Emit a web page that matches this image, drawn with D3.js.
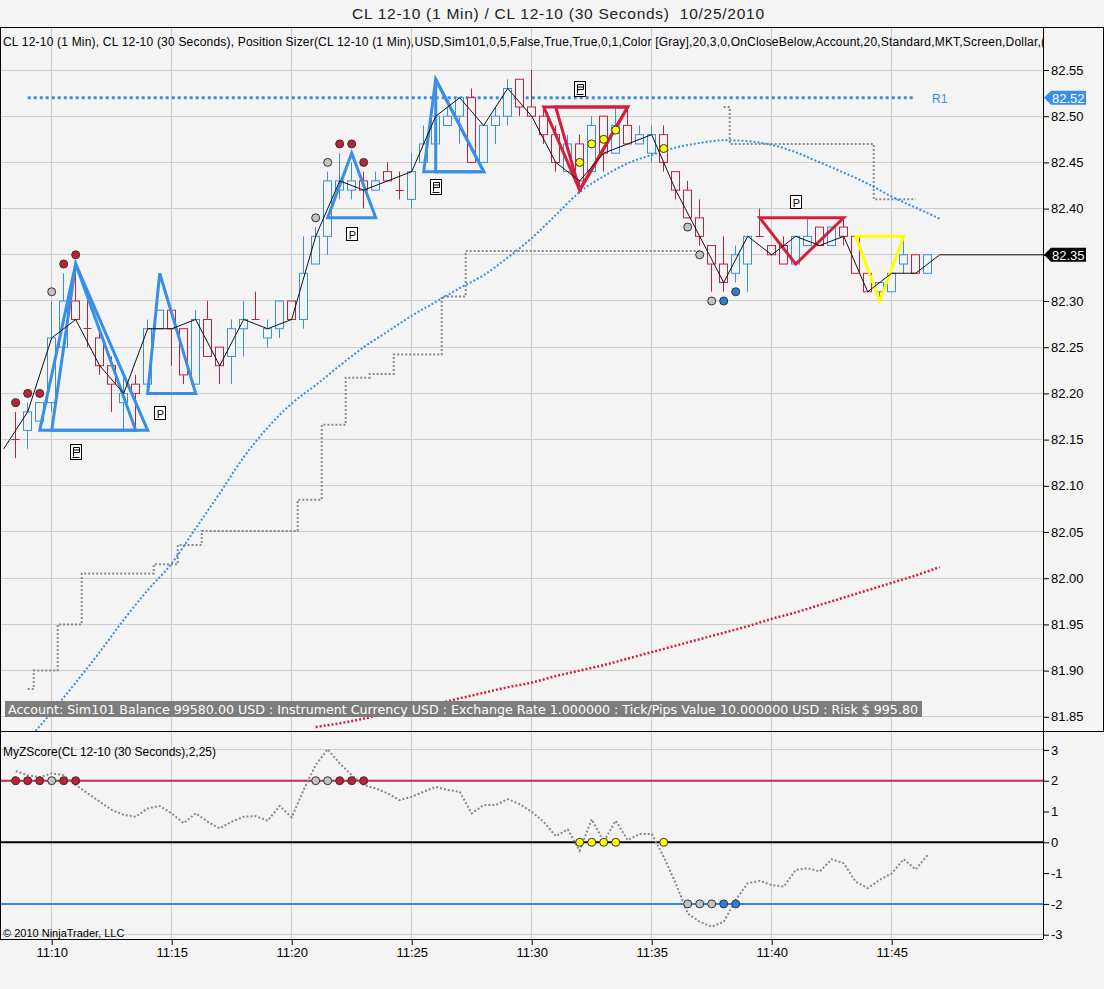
<!DOCTYPE html>
<html lang="en">
<head>
<meta charset="UTF-8">
<title>CL 12-10 (1 Min) / CL 12-10 (30 Seconds)</title>
<script src="https://d3js.org/d3.v7.min.js"></script>
<style>
    html, body {margin: 0; padding: 0; background: #f4f4f4;}
    svg {display: block; font-family: "Liberation Sans", Arial, sans-serif;}
</style>
</head>
<body>
<div id="chart"></div>
<script>

// 30 second bars, first one stamped 11:08:30
var barOpen = [82.15,82.16,82.17,82.19,82.25,82.30,82.27,82.26,82.23,82.19,
    82.21,82.21,82.27,82.29,82.27,82.21,82.28,82.25,82.24,82.27,
    82.28,82.26,82.27,82.30,82.28,82.34,82.37,82.42,82.42,82.43,
    82.42,82.44,82.42,82.41,82.45,82.47,82.49,82.50,82.52,82.45,
    82.49,82.50,82.54,82.51,82.50,82.48,82.44,82.47,82.44,82.50,
    82.46,82.49,82.47,82.46,82.48,82.44,82.42,82.39,82.36,82.34,
    82.33,82.34,82.37,82.36,82.36,82.34,82.36,82.38,82.36,82.38,
    82.37,82.33,82.31,82.31,82.34,82.35,82.33];
var barHigh = [82.18,82.19,82.19,82.30,82.33,82.34,82.30,82.27,82.24,82.22,
    82.22,82.28,82.29,82.29,82.27,82.29,82.30,82.25,82.28,82.30,
    82.31,82.28,82.30,82.30,82.37,82.38,82.44,82.46,82.45,82.44,
    82.44,82.45,82.44,82.46,82.49,82.51,82.51,82.52,82.53,82.49,
    82.51,82.54,82.54,82.55,82.51,82.49,82.48,82.48,82.50,82.50,
    82.51,82.51,82.49,82.49,82.49,82.44,82.43,82.41,82.36,82.37,
    82.36,82.37,82.40,82.36,82.37,82.37,82.39,82.38,82.38,82.39,
    82.37,82.33,82.32,82.33,82.37,82.35,82.35];
var barLow = [82.13,82.14,82.17,82.18,82.25,82.28,82.25,82.22,82.18,82.16,
    82.16,82.21,82.27,82.23,82.21,82.21,82.24,82.21,82.21,82.24,
    82.28,82.25,82.26,82.28,82.27,82.34,82.35,82.41,82.41,82.40,
    82.42,82.43,82.41,82.40,82.45,82.44,82.49,82.47,82.45,82.45,
    82.47,82.49,82.50,82.50,82.47,82.44,82.44,82.42,82.44,82.44,
    82.46,82.47,82.47,82.45,82.44,82.41,82.39,82.36,82.31,82.31,
    82.32,82.31,82.37,82.35,82.34,82.34,82.36,82.36,82.36,82.36,
    82.33,82.31,82.30,82.31,82.33,82.33,82.33];
var barClose = [82.15,82.18,82.19,82.26,82.30,82.28,82.27,82.23,82.21,82.20,
    82.20,82.27,82.29,82.27,82.22,82.28,82.24,82.23,82.27,82.28,
    82.28,82.27,82.30,82.28,82.33,82.37,82.43,82.43,82.43,82.42,
    82.43,82.43,82.42,82.44,82.47,82.50,82.50,82.52,82.45,82.49,
    82.50,82.53,82.51,82.50,82.48,82.45,82.47,82.43,82.49,82.46,
    82.49,82.47,82.48,82.48,82.45,82.42,82.39,82.37,82.34,82.32,
    82.35,82.37,82.37,82.35,82.34,82.37,82.37,82.36,82.38,82.37,
    82.33,82.31,82.32,82.33,82.35,82.33,82.35];

// 1 minute closes 11:08 .. 11:47
var minuteClose = [82.14,82.18,82.26,82.28,82.23,82.20,82.27,82.27,82.28,82.23,
    82.28,82.27,82.28,82.37,82.43,82.42,82.43,82.44,82.50,82.52,
    82.49,82.53,82.50,82.45,82.43,82.46,82.47,82.48,82.42,82.37,
    82.32,82.37,82.35,82.37,82.36,82.37,82.31,82.33,82.33,82.35];

// blue dotted average, one value a minute 11:09 .. 11:47
var blueAvg = [81.825,81.855,81.887,81.920,81.955,81.987,82.016,82.054,82.092,82.131,
    82.163,82.189,82.209,82.230,82.250,82.267,82.284,82.299,82.314,82.328,
    82.347,82.368,82.393,82.418,82.435,82.449,82.458,82.466,82.471,82.474,
    82.473,82.469,82.461,82.450,82.439,82.427,82.413,82.401,82.389];

// red dotted average, one value a minute 11:21 .. 11:47
var redAvg = [81.839,81.843,81.848,81.854,81.859,81.864,81.870,81.876,81.882,81.887,
    81.894,81.900,81.906,81.913,81.920,81.927,81.934,81.941,81.948,81.956,
    81.963,81.971,81.979,81.987,81.995,82.003,82.012];

// gray stop level on each 30 second bar (null = not plotted)
var stopLevel = [null,81.88,81.90,81.90,81.95,81.95,82.005,82.005,82.005,82.005,
    82.005,82.005,82.015,82.015,82.036,82.036,82.051,82.051,82.051,82.051,
    82.051,82.051,82.051,82.051,82.085,82.085,82.166,82.166,82.217,82.217,
    82.221,82.221,82.242,82.242,82.242,82.242,82.305,82.305,82.354,82.354,
    82.354,82.354,82.354,82.354,82.354,82.354,82.354,82.354,82.354,82.354,
    82.354,82.354,82.354,82.354,82.354,82.354,82.354,82.354,null,82.51,
    82.47,82.47,82.47,82.47,82.47,82.47,82.47,82.47,82.47,82.47,
    82.47,82.47,82.41,82.41,82.41,82.41,null];

// z score on each 30 second bar
var zScore = [2.31,2.18,2.11,2.24,2.18,1.86,1.59,1.32,1.05,0.89,
    0.83,1.10,1.18,0.94,0.62,0.94,0.67,0.45,0.67,0.83,
    0.85,0.70,1.18,0.81,1.70,2.51,3.02,2.56,2.18,1.86,
    1.75,1.59,1.37,1.48,1.64,1.80,1.70,1.64,0.94,1.21,
    1.21,1.40,1.24,0.99,0.67,0.20,0.42,-0.27,0.75,0.02,
    0.70,0.07,0.27,0.27,-0.47,-1.33,-2.31,-2.58,-2.74,-2.58,
    -1.87,-1.33,-1.25,-1.39,-1.44,-0.90,-0.84,-0.95,-0.55,-0.68,
    -1.28,-1.49,-1.22,-1.01,-0.55,-0.88,-0.41];

// signal dots
var dotBars = [0,1,2,3,4,5,25,26,27,28,29,47,48,49,50,54,56,57,58,59,60];
var dotKinds = ["red","red","red","gray","red","red","gray","gray","red","red","red",
    "yellow","yellow","yellow","yellow","yellow","gray","gray","gray","blue","blue"];
var dotPrices = [82.19,82.20,82.20,82.31,82.34,82.35,82.39,82.45,82.47,82.47,82.45,
    82.45,82.47,82.475,82.485,82.465,82.38,82.35,82.30,82.30,82.31];
var dotLevels = [2,2,2,2,2,2,2,2,2,2,2,0,0,0,0,0,-2,-2,-2,-2,-2];

// chart pattern triangles: [bar, price] corners
var triKinds = ["blue","blue","blue","blue","blue","blue","red","red","red","yellow"];
var triCorners = [
    [[2,82.16],[5,82.34],[10,82.16]],
    [[3,82.16],[5,82.34],[11,82.16]],
    [[11,82.20],[12,82.33],[15,82.20]],
    [[26,82.39],[28,82.46],[30,82.39]],
    [[34,82.44],[35,82.54],[39,82.44]],
    [[35,82.44],[35,82.54],[39,82.44]],
    [[44,82.51],[47,82.42],[51,82.51]],
    [[45,82.51],[47,82.42],[51,82.51]],
    [[62,82.39],[65,82.34],[69,82.39]],
    [[70,82.37],[72,82.30],[74,82.37]]
];
var pBars = [12,28,65], pPrices = [82.179,82.373,82.407];
var docBars = [5,35,47], docPrices = [82.137,82.423,82.529];

// R1 level
var r1Level = 82.52, r1From = 1, r1To = 75;
var lastPrice = 82.35;

var priceTicks = d3.range(0,15).map(function(k){ return +(81.85 + 0.05*k).toFixed(2); });
var zTicks = [-3,-2,-1,0,1,2,3];

var titleText = "CL 12-10 (1 Min) / CL 12-10 (30 Seconds)  10/25/2010";
var panelText = "CL 12-10 (1 Min), CL 12-10 (30 Seconds), Position Sizer(CL 12-10 (1 Min),USD,Sim101,0,5,False,True,True,0,1,Color [Gray],20,3,0,OnCloseBelow,Account,20,Standard,MKT,Screen,Dollar,(";
var accountText = "Account: Sim101 Balance 99580.00 USD : Instrument Currency USD : Exchange Rate 1.000000 : Tick/Pips Value 10.000000 USD : Risk $ 995.80";
var zText = "MyZScore(CL 12-10 (30 Seconds),2,25)";

// ---------------------------------------------------------------
var W = 1104, H = 989;
var bg = "#f4f4f4";
var axisX = 1043;
var pTop = 27, pBottom = 731, zBottom = 939;
var upColor = "#3a8ee6", downColor = "#c81e3c";
var dotFill = {red: "#c41e3a", gray: "#c3c3c3", yellow: "#ffff00", blue: "#2a7fdc"};
var triStroke = {blue: "#3a8ee6", red: "#d4203f", yellow: "#ffff00"};

var t0 = new Date(2010, 9, 25, 11, 8, 30);
function barTime(i){ return new Date(t0.getTime() + i*30000); }
function minTime(k, start){ return new Date(start.getTime() + k*60000); }

var x = d3.scaleTime().domain([barTime(0), barTime(76)]).range([15.7, 927.7]);
var y = d3.scaleLinear().domain([81.85, 82.55]).range([716.8, 70]);
var z = d3.scaleLinear().domain([-3, 3]).range([934.7, 749.9]);
function bx(i){ return x(barTime(i)); }
function crisp(v){ return Math.floor(v) + 0.5; }

var svg = d3.select("#chart").append("svg").attr("width", W).attr("height", H);
svg.append("rect").attr("width", W).attr("height", H).attr("fill", bg);

var defs = svg.append("defs");
defs.append("clipPath").attr("id", "clipP").append("rect")
    .attr("x", 1).attr("y", pTop + 1).attr("width", axisX - 1).attr("height", pBottom - pTop - 1);
defs.append("clipPath").attr("id", "clipZ").append("rect")
    .attr("x", 1).attr("y", pBottom + 1).attr("width", axisX - 1).attr("height", zBottom - pBottom - 1);

// title
svg.append("text").attr("x", 558).attr("y", 19).attr("text-anchor", "middle")
    .attr("font-size", "15.5px").attr("fill", "#222").style("white-space", "pre")
    .attr("textLength", 412).attr("lengthAdjust", "spacing")
    .text(titleText);

// grid
var timeTicks = x.ticks(d3.timeMinute.every(5));
svg.append("g").selectAll("line").data(timeTicks).join("line")
    .attr("x1", function(d){ return crisp(x(d)); }).attr("x2", function(d){ return crisp(x(d)); })
    .attr("y1", pTop).attr("y2", zBottom)
    .attr("stroke", "#cdcdcd").attr("stroke-width", 1);
svg.append("g").selectAll("line").data(priceTicks).join("line")
    .attr("x1", 1).attr("x2", axisX)
    .attr("y1", function(d){ return crisp(y(d)); }).attr("y2", function(d){ return crisp(y(d)); })
    .attr("stroke", "#cdcdcd").attr("stroke-width", 1);
svg.append("g").selectAll("line").data([3, -3]).join("line")
    .attr("x1", 1).attr("x2", axisX)
    .attr("y1", function(d){ return crisp(z(d)); }).attr("y2", function(d){ return crisp(z(d)); })
    .attr("stroke", "#cdcdcd").attr("stroke-width", 1);

// ---------------- price panel ----------------
var pg = svg.append("g").attr("clip-path", "url(#clipP)");

// gray stop steps
var stopLine = d3.line()
    .defined(function(d){ return d.v != null; })
    .x(function(d){ return bx(d.i); })
    .y(function(d){ return y(d.v); })
    .curve(d3.curveStep);
pg.append("path").datum(stopLevel.map(function(v, i){ return {i: i, v: v}; }))
    .attr("d", stopLine).attr("fill", "none")
    .attr("stroke", "#8a8a8a").attr("stroke-width", 2).attr("stroke-dasharray", "2,2");

// averages
var blueStart = new Date(2010, 9, 25, 11, 9, 0);
var redStart = new Date(2010, 9, 25, 11, 21, 0);
var avgLine = d3.line().x(function(d){ return x(d.t); }).y(function(d){ return y(d.v); })
    .curve(d3.curveMonotoneX);
pg.append("path").datum(blueAvg.map(function(v, k){ return {t: minTime(k, blueStart), v: v}; }))
    .attr("d", avgLine).attr("fill", "none")
    .attr("stroke", "#3a8ee6").attr("stroke-width", 2).attr("stroke-dasharray", "2,2");
pg.append("path").datum(redAvg.map(function(v, k){ return {t: minTime(k, redStart), v: v}; }))
    .attr("d", avgLine).attr("fill", "none")
    .attr("stroke", "#d4203f").attr("stroke-width", 2.5).attr("stroke-dasharray", "2,2");

// R1
pg.append("line")
    .attr("x1", bx(r1From)).attr("x2", bx(r1To))
    .attr("y1", y(r1Level)).attr("y2", y(r1Level))
    .attr("stroke", "#3a8ee6").attr("stroke-width", 3).attr("stroke-dasharray", "3,3");
pg.append("text").attr("x", bx(77)).attr("y", y(r1Level) + 5).attr("text-anchor", "middle")
    .attr("font-size", "12px").attr("fill", "#3a8ee6").text("R1");

// candles
var bars = d3.range(barOpen.length);
var cg = pg.append("g");
cg.selectAll("line.wick").data(bars).join("line").attr("class", "wick")
    .attr("x1", function(i){ return crisp(bx(i)); }).attr("x2", function(i){ return crisp(bx(i)); })
    .attr("y1", function(i){ return y(barHigh[i]); }).attr("y2", function(i){ return y(barLow[i]); })
    .attr("stroke", function(i){ return barClose[i] > barOpen[i] ? upColor : downColor; })
    .attr("stroke-width", 1);
cg.selectAll("rect.body").data(bars.filter(function(i){ return barClose[i] != barOpen[i]; }))
    .join("rect").attr("class", "body")
    .attr("x", function(i){ return crisp(bx(i)) - 4; })
    .attr("y", function(i){ return y(Math.max(barOpen[i], barClose[i])); })
    .attr("width", 8)
    .attr("height", function(i){ return Math.abs(y(barOpen[i]) - y(barClose[i])); })
    .attr("fill", bg)
    .attr("stroke", function(i){ return barClose[i] > barOpen[i] ? upColor : downColor; })
    .attr("stroke-width", 1);
cg.selectAll("line.doji").data(bars.filter(function(i){ return barClose[i] == barOpen[i]; }))
    .join("line").attr("class", "doji")
    .attr("x1", function(i){ return crisp(bx(i)) - 4; }).attr("x2", function(i){ return crisp(bx(i)) + 4; })
    .attr("y1", function(i){ return crisp(y(barClose[i])); }).attr("y2", function(i){ return crisp(y(barClose[i])); })
    .attr("stroke", downColor).attr("stroke-width", 1);

// triangles
pg.append("g").selectAll("path").data(triCorners).join("path")
    .attr("d", function(c){
        return "M" + c.map(function(p){ return bx(p[0]) + "," + y(p[1]); }).join("L") + "Z";
    })
    .attr("fill", "none")
    .attr("stroke", function(c, k){ return triStroke[triKinds[k]]; })
    .attr("stroke-width", 3).attr("stroke-linejoin", "miter");

// one minute close line
var mStart = new Date(2010, 9, 25, 11, 8, 0);
var mPts = minuteClose.map(function(v, k){ return [x(minTime(k, mStart)), y(v)]; });
mPts.push([axisX, y(lastPrice)]);
pg.append("path").attr("d", d3.line()(mPts)).attr("fill", "none")
    .attr("stroke", "#111").attr("stroke-width", 1);

// dots
pg.append("g").selectAll("circle").data(dotBars).join("circle")
    .attr("cx", function(b){ return bx(b); })
    .attr("cy", function(b, k){ return y(dotPrices[k]); })
    .attr("r", 4)
    .attr("fill", function(b, k){ return dotFill[dotKinds[k]]; })
    .attr("stroke", "#333").attr("stroke-width", 1);

// pattern markers
var pm = pg.append("g").selectAll("g").data(pBars).join("g")
    .attr("transform", function(b, k){ return "translate(" + Math.round(bx(b)) + "," + Math.round(y(pPrices[k])) + ")"; });
pm.append("rect").attr("x", -5.5).attr("y", -6.5).attr("width", 11).attr("height", 13)
    .attr("fill", "#fff").attr("stroke", "#000");
pm.append("text").attr("x", 0.5).attr("y", 4.5).attr("text-anchor", "middle")
    .attr("font-size", "11px").attr("fill", "#000").text("P");

var dm = pg.append("g").selectAll("g").data(docBars).join("g")
    .attr("transform", function(b, k){ return "translate(" + Math.round(bx(b)) + "," + Math.round(y(docPrices[k])) + ")"; });
dm.append("rect").attr("x", -5.5).attr("y", -7.5).attr("width", 11).attr("height", 15)
    .attr("fill", "#fff").attr("stroke", "#000");
dm.append("path")
    .attr("d", "M-2.5,4.5V-4.5H3.5V0.5H-2.5M-2.5,-2H3.5M-3.5,5.5H3.5")
    .attr("fill", "none").attr("stroke", "#000").attr("stroke-width", 1);

// account box
svg.append("rect").attr("x", 5).attr("y", 701).attr("width", 917).attr("height", 16).attr("fill", "#7d7d7d");
svg.append("text").attr("x", 8).attr("y", 713.5)
    .attr("font-family", "'DejaVu Sans', Verdana, sans-serif").attr("font-size", "11.5px")
    .attr("fill", "#fff").attr("textLength", 910).attr("lengthAdjust", "spacingAndGlyphs")
    .text(accountText);

// panel label
svg.append("g").attr("clip-path", "url(#clipP)").append("text")
    .attr("x", 3).attr("y", 46).attr("font-size", "12px").attr("fill", "#000")
    .attr("textLength", 1042).attr("lengthAdjust", "spacing").text(panelText);

// ---------------- z score panel ----------------
var zg = svg.append("g").attr("clip-path", "url(#clipZ)");
var levelColors = [["#b8304f", 2], ["#000", 0], ["#2e8ae6", -2]];
zg.selectAll("line.level").data(levelColors).join("line").attr("class", "level")
    .attr("x1", 1).attr("x2", axisX)
    .attr("y1", function(d){ return z(d[1]); }).attr("y2", function(d){ return z(d[1]); })
    .attr("stroke", function(d){ return d[0]; }).attr("stroke-width", 2);

zg.append("path")
    .attr("d", d3.line().x(function(v, i){ return bx(i); }).y(function(v){ return z(v); })(zScore))
    .attr("fill", "none").attr("stroke", "#8a8a8a").attr("stroke-width", 2).attr("stroke-dasharray", "2,2");

zg.append("g").selectAll("circle").data(dotBars).join("circle")
    .attr("cx", function(b){ return bx(b); })
    .attr("cy", function(b, k){ return z(dotLevels[k]); })
    .attr("r", 4)
    .attr("fill", function(b, k){ return dotFill[dotKinds[k]]; })
    .attr("stroke", "#333").attr("stroke-width", 1);

zg.append("text").attr("x", 3).attr("y", 756).attr("font-size", "12px").attr("fill", "#000").text(zText);
zg.append("text").attr("x", 3).attr("y", 937).attr("font-size", "11px").attr("fill", "#000")
    .text("\u00A9 2010 NinjaTrader, LLC");

// ---------------- axes ----------------
var pAxis = svg.append("g").attr("transform", "translate(" + axisX + ",0)")
    .call(d3.axisRight(y).tickValues(priceTicks).tickFormat(d3.format(".2f")).tickSize(6).tickPadding(2));
pAxis.select(".domain").remove();

var zAxis = svg.append("g").attr("transform", "translate(" + axisX + ",0)")
    .call(d3.axisRight(z).tickValues(zTicks).tickFormat(function(d){ return String(d); }).tickSize(6).tickPadding(2));
zAxis.select(".domain").remove();

var tAxis = svg.append("g").attr("transform", "translate(0," + zBottom + ")")
    .call(d3.axisBottom(x).ticks(d3.timeMinute.every(5)).tickFormat(d3.timeFormat("%H:%M")).tickSize(6).tickPadding(3));
tAxis.select(".domain").remove();

[pAxis, zAxis, tAxis].forEach(function(a){
    a.selectAll("text").attr("font-family", "'Liberation Sans', Arial, sans-serif")
        .attr("font-size", "13px").attr("fill", "#000");
    a.selectAll("line").attr("stroke", "#000");
});

// price markers on axis
function marker(price, fill){
    var yy = y(price);
    svg.append("path")
        .attr("d", "M" + (axisX + 1) + "," + yy + "L" + (axisX + 8) + "," + (yy - 7) +
            "L" + (axisX + 43) + "," + (yy - 7) + "L" + (axisX + 43) + "," + (yy + 7) +
            "L" + (axisX + 8) + "," + (yy + 7) + "Z")
        .attr("fill", fill);
    svg.append("text").attr("x", axisX + 9).attr("y", yy + 5)
        .attr("font-size", "13px").attr("fill", "#fff").text(d3.format(".2f")(price));
}
marker(r1Level, "#3a8ee6");
marker(lastPrice, "#000");

// frame
var frame = svg.append("g").attr("stroke", "#000").attr("stroke-width", 1);
frame.append("line").attr("x1", 0).attr("x2", W).attr("y1", pTop + 0.5).attr("y2", pTop + 0.5);
frame.append("line").attr("x1", 0.5).attr("x2", 0.5).attr("y1", pTop).attr("y2", zBottom);
frame.append("line").attr("x1", W - 0.5).attr("x2", W - 0.5).attr("y1", pTop).attr("y2", pBottom + 1);
frame.append("line").attr("x1", 0).attr("x2", W).attr("y1", pBottom + 0.5).attr("y2", pBottom + 0.5);
frame.append("line").attr("x1", axisX + 0.5).attr("x2", axisX + 0.5).attr("y1", pTop).attr("y2", zBottom);
frame.append("line").attr("x1", 0).attr("x2", axisX).attr("y1", zBottom + 0.5).attr("y2", zBottom + 0.5);

</script>
</body>
</html>
